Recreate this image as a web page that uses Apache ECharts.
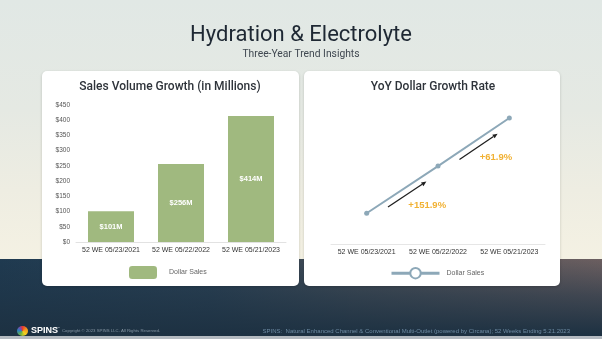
<!DOCTYPE html>
<html>
<head>
<meta charset="utf-8">
<script src="https://cdn.jsdelivr.net/npm/echarts@6/dist/echarts.min.js"></script>
<style>
html,body{margin:0;padding:0;width:602px;height:339px;overflow:hidden;}
#sky{position:absolute;left:0;top:0;width:602px;height:259px;
  background:linear-gradient(to bottom,#e1e8e5 0px,#e5e9e3 110px,#eeede2 190px,#f4f1e3 258px);}
#sea{position:absolute;left:0;top:259px;width:602px;height:80px;
  background:linear-gradient(to bottom,rgba(30,51,69,0) 0%,rgba(30,51,69,0.55) 45%,rgba(29,49,66,1) 95%),
             linear-gradient(to right,#1f3a50 0%,#2c4255 35%,#4a5058 60%,#6c5f60 100%);}
#edge{position:absolute;left:0;top:336px;width:602px;height:3px;background:#b4bac0;}
.card{position:absolute;top:71px;height:215px;background:#fff;border-radius:5px;box-shadow:0 1px 3px rgba(0,0,0,0.18);}
#logo{position:absolute;left:17px;top:326px;width:11px;height:10px;border-radius:50%;
  background:conic-gradient(#e63b2e 0deg,#f39c1f 70deg,#f4d21f 140deg,#6cb33f 210deg,#2d7fc1 280deg,#8e3fa0 330deg,#e63b2e 360deg);}
#chart{position:absolute;left:0;top:0;width:602px;height:339px;}
</style>
</head>
<body>
<div id="sky"></div>
<div id="sea"></div>
<div id="edge"></div>
<div class="card" style="left:42px;width:257px;"></div>
<div class="card" style="left:304px;width:256px;"></div>
<div id="logo"></div>
<div id="chart"></div>
<script>
// ---- data ----
const categories = ['52 WE 05/23/2021', '52 WE 05/22/2022', '52 WE 05/21/2023'];
const dollarSales = [101, 256, 414];          // $ millions
const growthRates = ['+151.9%', '+61.9%'];    // YoY growth between consecutive periods
const yAxisMin = 0;
const yAxisMax = 450;
const yAxisInterval = 50;

const green = '#a0b97f';
const lineColor = '#8da8b8';
const FF = 'Liberation Sans';

const chart = echarts.init(document.getElementById('chart'), null, {renderer: 'canvas'});

const option = {
  backgroundColor: 'transparent',
  animation: false,
  textStyle: {fontFamily: FF},
  grid: [
    {left: 76, top: 105, width: 210, height: 137},
    {left: 331, top: 107, width: 214, height: 137}
  ],
  xAxis: [
    {type: 'category', gridIndex: 0, data: categories,
     axisLine: {lineStyle: {color: '#e2e2e2'}}, axisTick: {show: false},
     axisLabel: {color: '#333', fontSize: 7, margin: 5, fontFamily: FF, interval: 0, hideOverlap: false}},
    {type: 'category', gridIndex: 1, data: categories,
     axisLine: {lineStyle: {color: '#e6e6e6'}}, axisTick: {show: false},
     axisLabel: {color: '#333', fontSize: 7, margin: 5, fontFamily: FF, interval: 0, hideOverlap: false}}
  ],
  yAxis: [
    {type: 'value', gridIndex: 0, min: yAxisMin, max: yAxisMax, interval: yAxisInterval,
     splitLine: {show: false}, axisLine: {show: false}, axisTick: {show: false},
     axisLabel: {formatter: '${value}', color: '#555', fontSize: 6.5, margin: 6, fontFamily: FF}},
    {type: 'value', gridIndex: 1, min: yAxisMin, max: yAxisMax, show: false, splitLine: {show: false}}
  ],
  legend: [
    {left: 129, top: 266, padding: 0, itemWidth: 28, itemHeight: 13, data: ['Dollar Sales'],
     textStyle: {color: '#666', fontSize: 7, fontFamily: FF, padding: [0, 0, 0, 7]}},
    {left: 390, top: 267, padding: 0, itemWidth: 48, itemHeight: 13, data: ['Dollar Sales YoY'],
     formatter: function () { return 'Dollar Sales'; },
     lineStyle: {width: 3, color: lineColor},
     itemStyle: {color: '#fff', borderColor: lineColor, borderWidth: 2},
     textStyle: {color: '#666', fontSize: 7, fontFamily: FF, padding: [0, 0, 0, 2]}}
  ],
  series: [
    {type: 'bar', name: 'Dollar Sales', xAxisIndex: 0, yAxisIndex: 0, data: dollarSales,
     barWidth: 46, itemStyle: {color: green},
     label: {show: true, position: 'inside', color: '#fff', fontWeight: 'bold', fontSize: 7.5,
             fontFamily: FF, formatter: function (p) { return '$' + p.value + 'M'; }}},
    {type: 'line', name: 'Dollar Sales YoY', xAxisIndex: 1, yAxisIndex: 1, data: dollarSales,
     symbol: 'circle', symbolSize: 5, lineStyle: {width: 2, color: lineColor},
     itemStyle: {color: lineColor}}
  ]
};
chart.setOption(option);

// ---- annotations derived from data positions ----
const pts = dollarSales.map(function (v, i) { return chart.convertToPixel({seriesIndex: 1}, [i, v]); });
const graphics = [
  {type: 'text', x: 301, y: 35, style: {text: 'Hydration & Electrolyte', fill: '#1e2833',
    font: '400 22px Roboto', align: 'center', verticalAlign: 'middle'}},
  {type: 'text', x: 301, y: 54.5, style: {text: 'Three-Year Trend Insights', fill: '#3f4750',
    font: '400 10.3px Roboto', align: 'center', verticalAlign: 'middle'}},
  {type: 'text', x: 170, y: 87, style: {text: 'Sales Volume Growth (in Millions)', fill: '#2e333a',
    font: '500 12px Roboto', align: 'center', verticalAlign: 'middle'}},
  {type: 'text', x: 433, y: 87, style: {text: 'YoY Dollar Growth Rate', fill: '#2e333a',
    font: '500 12px Roboto', align: 'center', verticalAlign: 'middle'}},
  {type: 'text', x: 31, y: 331, style: {text: 'SPINS', fill: '#ffffff',
    font: 'bold 9px ' + FF, align: 'left', verticalAlign: 'middle'}},
  {type: 'text', x: 57, y: 328, style: {text: '™', fill: '#cfd6dc',
    font: '3px ' + FF, align: 'left', verticalAlign: 'middle'}},
  {type: 'text', x: 62, y: 331, style: {text: 'Copyright © 2023 SPINS LLC. All Rights Reserved.', fill: '#8797a5',
    font: '4.3px ' + FF, align: 'left', verticalAlign: 'middle'}},
  {type: 'text', x: 570, y: 331.5, style: {text: 'SPINS:  Natural Enhanced Channel & Conventional Multi-Outlet (powered by Circana); 52 Weeks Ending 5.21.2023',
    fill: '#6d8aa2', font: '6px ' + FF, align: 'right', verticalAlign: 'middle'}}
];
for (let i = 0; i < pts.length - 1; i++) {
  const p0 = pts[i], p1 = pts[i + 1];
  const dx = p1[0] - p0[0], dy = p1[1] - p0[1];
  const len = Math.sqrt(dx * dx + dy * dy);
  const u = [dx / len, dy / len];
  const n = [-u[1], u[0]];
  const mx = (p0[0] + p1[0]) / 2 + n[0] * 6.5 + u[0] * 1.5;
  const my = (p0[1] + p1[1]) / 2 + n[1] * 6.5 + u[1] * 1.5;
  const half = 23;
  const s = [mx - u[0] * half, my - u[1] * half];
  const e = [mx + u[0] * half, my + u[1] * half];
  const hb = [e[0] - u[0] * 5, e[1] - u[1] * 5];
  graphics.push({type: 'line', shape: {x1: s[0], y1: s[1], x2: hb[0], y2: hb[1]},
    style: {stroke: '#1f1f1f', lineWidth: 1.3}});
  graphics.push({type: 'polygon', shape: {points: [e, [hb[0] + n[0] * 2.2, hb[1] + n[1] * 2.2], [hb[0] - n[0] * 2.2, hb[1] - n[1] * 2.2]]},
    style: {fill: '#1f1f1f'}});
  const lx = (p0[0] + p1[0]) / 2 + 6;
  const ly = (p0[1] + p1[1]) / 2 + 15.5;
  graphics.push({type: 'text', x: lx, y: ly, style: {text: growthRates[i], fill: '#f1b133',
    font: 'bold 9.5px ' + FF, align: 'left', verticalAlign: 'middle'}});
}
chart.setOption({graphic: graphics});
</script>
</body>
</html>
